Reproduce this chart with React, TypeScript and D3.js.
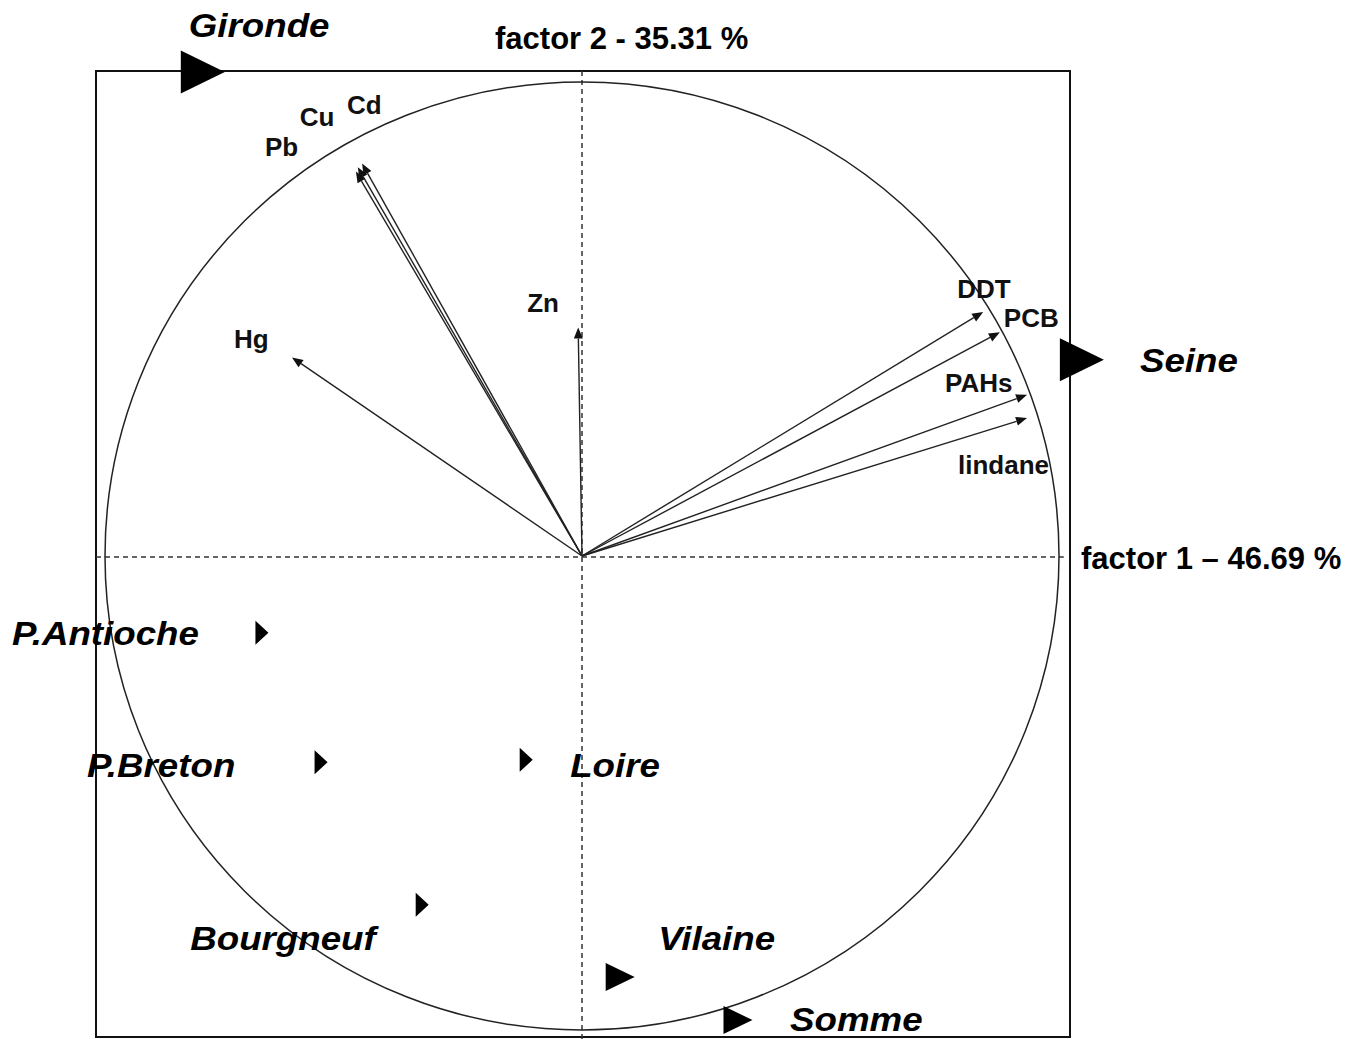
import React, { useEffect, useRef } from "react";
import * as d3 from "d3";

// variable loadings on the correlation circle
const variables = ["Pb", "Cu", "Cd", "Hg", "Zn", "DDT", "PCB", "PAHs", "lindane"];
const loadF1 = [-0.474, -0.47, -0.461, -0.608, -0.008, 0.841, 0.876, 0.933, 0.933];
const loadF2 = [0.811, 0.82, 0.828, 0.419, 0.482, 0.515, 0.472, 0.34, 0.291];

// sites projected as supplementary points
const sites = ["Gironde", "Seine", "P.Antioche", "P.Breton", "Loire", "Bourgneuf", "Vilaine", "Somme"];
const scoreF1 = [-0.795, 1.048, -0.671, -0.547, -0.117, -0.335, 0.08, 0.327];
const scoreF2 = [1.021, 0.414, -0.162, -0.435, -0.43, -0.736, -0.888, -0.979];
const siteClass = ["large", "large", "small", "small", "small", "small", "medium", "medium"];

const axisTitles = ["factor 1 \u2013 46.69 %", "factor 2 - 35.31 %"];

const App = () => {
  const ref = useRef(null);

  useEffect(() => {
    const W = 1355;
    const H = 1039;
    const cx = 582;
    const cy = 556;
    const rx = 477;
    const ry = 474;
    const box = { left: 96, top: 71, right: 1070, bottom: 1037 };
    const font = "Liberation Sans, Arial, sans-serif";

    const x = d3.scaleLinear().domain([-1, 1]).range([cx - rx, cx + rx]);
    const y = d3.scaleLinear().domain([-1, 1]).range([cy + ry, cy - ry]);

    const svg = d3.select(ref.current);
    svg.selectAll("*").remove();
    svg.attr("width", W).attr("height", H);

    svg.append("rect").attr("width", W).attr("height", H).attr("fill", "#fff");

    svg
      .append("rect")
      .attr("x", box.left)
      .attr("y", box.top)
      .attr("width", box.right - box.left)
      .attr("height", box.bottom - box.top)
      .attr("fill", "none")
      .attr("stroke", "#111")
      .attr("stroke-width", 2);

    // dashed axes
    svg
      .append("line")
      .attr("x1", x(0))
      .attr("x2", x(0))
      .attr("y1", box.top)
      .attr("y2", H)
      .attr("stroke", "#333")
      .attr("stroke-width", 1.5)
      .attr("stroke-dasharray", "5,4");
    svg
      .append("line")
      .attr("x1", box.left)
      .attr("x2", x(1.01))
      .attr("y1", y(-0.002))
      .attr("y2", y(-0.002))
      .attr("stroke", "#333")
      .attr("stroke-width", 1.5)
      .attr("stroke-dasharray", "5,4");

    // correlation circle
    svg
      .append("ellipse")
      .attr("cx", x(0))
      .attr("cy", y(0))
      .attr("rx", x(1) - x(0))
      .attr("ry", y(0) - y(1))
      .attr("fill", "none")
      .attr("stroke", "#222")
      .attr("stroke-width", 1.5);

    // variable arrows
    const arrows = svg.append("g");
    variables.forEach((v, i) => {
      const x0 = x(0);
      const y0 = y(0);
      const x1 = x(loadF1[i]);
      const y1 = y(loadF2[i]);
      const ang = Math.atan2(y1 - y0, x1 - x0);
      const len = 11;
      const half = 4.5;
      const bx = x1 - len * Math.cos(ang);
      const by = y1 - len * Math.sin(ang);
      arrows
        .append("line")
        .attr("x1", x0)
        .attr("y1", y0)
        .attr("x2", bx)
        .attr("y2", by)
        .attr("stroke", "#222")
        .attr("stroke-width", 1.4);
      const pts = [
        [x1, y1],
        [bx + half * Math.sin(ang), by - half * Math.cos(ang)],
        [bx - half * Math.sin(ang), by + half * Math.cos(ang)],
      ];
      arrows
        .append("polygon")
        .attr("points", pts.map((p) => p.join(",")).join(" "))
        .attr("fill", "#111");
    });

    // label offsets from arrow tips (px)
    const varLabelOffset = {
      Pb: [-91, -16],
      Cu: [-58, -41],
      Cd: [-15, -50],
      Hg: [-58, -9],
      Zn: [-51, -16],
      DDT: [-26, -14],
      PCB: [4, -5],
      PAHs: [-82, -3],
      lindane: [-69, 56],
    };
    svg
      .append("g")
      .selectAll("text")
      .data(variables)
      .enter()
      .append("text")
      .attr("x", (d, i) => x(loadF1[i]) + varLabelOffset[d][0])
      .attr("y", (d, i) => y(loadF2[i]) + varLabelOffset[d][1])
      .attr("font-family", font)
      .attr("font-weight", "bold")
      .attr("font-size", 26)
      .attr("fill", "#111")
      .text((d) => d);

    // site markers
    const markerSize = {
      large: [44, 43],
      medium: [29, 28],
      small: [13, 24],
    };
    const g = svg.append("g");
    sites.forEach((s, i) => {
      const [w, h] = markerSize[siteClass[i]];
      const px = x(scoreF1[i]);
      const py = y(scoreF2[i]);
      g.append("polygon")
        .attr(
          "points",
          [
            [px - w / 2, py - h / 2],
            [px + w / 2, py],
            [px - w / 2, py + h / 2],
          ]
            .map((p) => p.join(","))
            .join(" ")
        )
        .attr("fill", "#000");
    });

    const siteLabelOffset = {
      Gironde: [-14, -35],
      Seine: [58, 12],
      "P.Antioche": [-250, 12],
      "P.Breton": [-234, 15],
      Loire: [44, 17],
      Bourgneuf: [-232, 45],
      Vilaine: [38, -27],
      Somme: [52, 11],
    };
    svg
      .append("g")
      .selectAll("text")
      .data(sites)
      .enter()
      .append("text")
      .attr(
        "transform",
        (d, i) =>
          "translate(" +
          (x(scoreF1[i]) + siteLabelOffset[d][0]) +
          "," +
          (y(scoreF2[i]) + siteLabelOffset[d][1]) +
          ") scale(1.08,1)"
      )
      .attr("font-family", font)
      .attr("font-weight", "bold")
      .attr("font-style", "italic")
      .attr("font-size", 34)
      .attr("fill", "#000")
      .text((d) => d);

    // axis titles
    svg
      .append("text")
      .attr("x", x(1) + 22)
      .attr("y", y(0) + 13)
      .attr("font-family", font)
      .attr("font-weight", "bold")
      .attr("font-size", 31)
      .attr("fill", "#000")
      .text(axisTitles[0]);
    svg
      .append("text")
      .attr("x", 495)
      .attr("y", 49)
      .attr("font-family", font)
      .attr("font-weight", "bold")
      .attr("font-size", 31)
      .attr("fill", "#000")
      .text(axisTitles[1]);
  }, []);

  return (
    <div style={{ position: "absolute", left: 0, top: 0 }}>
      <svg ref={ref} style={{ display: "block" }} />
    </div>
  );
};

export default App;
